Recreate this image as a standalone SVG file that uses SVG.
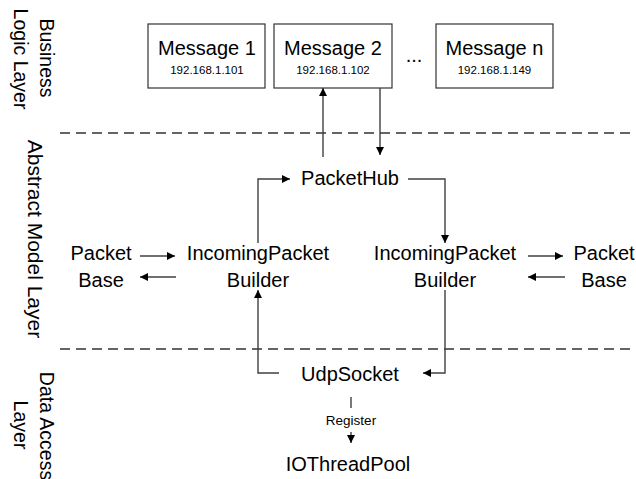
<svg xmlns="http://www.w3.org/2000/svg" width="636" height="479" viewBox="0 0 636 479">
<defs>
<marker id="ah" viewBox="0 0 10 10" refX="10" refY="5" markerWidth="8" markerHeight="8" markerUnits="userSpaceOnUse" orient="auto">
<path d="M0,0 L10,5 L0,10 Z" fill="#000"/>
</marker>
<style>
text{font-family:"Liberation Sans",Arial,sans-serif;fill:#000}
.lbl{font-size:20px;text-anchor:middle}
.ip{font-size:11.5px;text-anchor:middle}
.small{font-size:13.5px;text-anchor:middle}
.layer{font-size:19.5px;text-anchor:middle}
.box{fill:#fff;stroke:#333;stroke-width:1.2}
.dash{stroke:#333;stroke-width:1.5;stroke-dasharray:10 6;fill:none}
.conn path{fill:none;stroke:#404040;stroke-width:1.4}
.arr{marker-end:url(#ah)}
</style>
</defs>
<rect width="636" height="479" fill="#fff"/>

<g id="layers">
<text class="layer" transform="translate(40,58) rotate(90)">Business</text>
<text class="layer" transform="translate(14,59) rotate(90)">Logic Layer</text>
<text class="layer" style="font-size:21px" transform="translate(28,239) rotate(90)">Abstract Model Layer</text>
<text class="layer" transform="translate(40,426) rotate(90)">Data Access</text>
<text class="layer" transform="translate(14,425) rotate(90)">Layer</text>
<line class="dash" x1="60" y1="133" x2="636" y2="133"/>
<line class="dash" x1="60" y1="349" x2="636" y2="349"/>
</g>

<g id="message1">
<rect class="box" x="148" y="24" width="117" height="64"/>
<text class="lbl" x="207" y="55">Message 1</text>
<text class="ip" x="207" y="74">192.168.1.101</text>
</g>
<g id="message2">
<rect class="box" x="274" y="24" width="118" height="64"/>
<text class="lbl" x="333" y="55">Message 2</text>
<text class="ip" x="333" y="74">192.168.1.102</text>
</g>
<g id="ellipsis">
<text class="lbl" x="414" y="62">...</text>
</g>
<g id="messagen">
<rect class="box" x="436" y="24" width="117" height="64"/>
<text class="lbl" x="494.5" y="55">Message n</text>
<text class="ip" x="494.5" y="74">192.168.1.149</text>
</g>

<g id="packethub"><text class="lbl" x="350" y="185">PacketHub</text></g>
<g id="builderL">
<text class="lbl" x="258" y="260">IncomingPacket</text>
<text class="lbl" x="258" y="287">Builder</text>
</g>
<g id="builderR">
<text class="lbl" x="445" y="260">IncomingPacket</text>
<text class="lbl" x="445" y="287">Builder</text>
</g>
<g id="packetbaseL">
<text class="lbl" x="101" y="260">Packet</text>
<text class="lbl" x="101" y="287">Base</text>
</g>
<g id="packetbaseR">
<text class="lbl" x="604" y="260">Packet</text>
<text class="lbl" x="604" y="287">Base</text>
</g>
<g id="udpsocket"><text class="lbl" x="350" y="381">UdpSocket</text></g>
<g id="iothreadpool"><text class="lbl" x="348" y="471">IOThreadPool</text></g>

<g id="connectors" class="conn">
<path class="arr" d="M323,157 V88"/>
<path class="arr" d="M380,88 V155"/>
<path class="arr" d="M258,243 V179 H290"/>
<path class="arr" d="M408,179 H445 V243"/>
<path class="arr" d="M279,373 H258 V290"/>
<path class="arr" d="M445,290 V373 H423"/>
<path class="arr" d="M140,256 H175"/>
<path class="arr" d="M176,277 H140"/>
<path class="arr" d="M528,256 H563"/>
<path class="arr" d="M565,277 H528"/>
<path d="M351,397 V408"/>
<path class="arr" d="M351,432 V443"/>
<text class="small" x="351" y="425">Register</text>
</g>
</svg>
